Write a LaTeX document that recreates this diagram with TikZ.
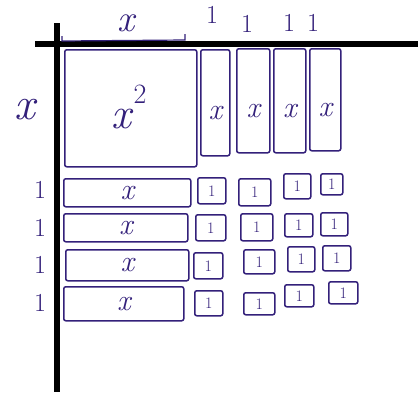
\documentclass[tikz,border=0pt]{standalone}
\usepackage{fontspec}
\usetikzlibrary{calc}
\begin{document}
\begin{tikzpicture}[x=1pt,y=-1pt,
  ink/.style={draw=inkc,line width=1.5pt},
  tile/.style={ink,rounded corners=2pt,inner sep=0pt,anchor=north west},
  lbl/.style={text=inkc,inner sep=0pt},
  vx/.style={lbl,font=\fontsize{30}{30}\selectfont\itshape},
  one/.style={lbl,font=\fontsize{26}{26}\selectfont},
  small/.style={lbl,font=\fontsize{16}{16}\selectfont},
  axis/.style={line width=5.5pt,black}]
\definecolor{inkc}{HTML}{33207A}
\useasboundingbox (0,0) rectangle (418,392);
% axes
\draw[axis] (35,44) -- (418,44);
\draw[axis] (57,23) -- (57,392);
% dimension marks on top
\coordinate (m1) at (62,36);
\coordinate (m2) at (185,34);
\draw[ink,line width=1.2pt] (m1) -- ++(0,5) -- ($(m2)+(0,6)$) -- (m2);
\node[lbl,font=\fontsize{38}{38}\selectfont\itshape] (tx) at (126,23) {x};
\node[one] (t1) at (212,15) {1};
\node[one] (t2) at (247,24) {1};
\node[one] (t3) at (289,23) {1};
\node[one] (t4) at (313,23) {1};
% left labels
\node[lbl,font=\fontsize{46}{46}\selectfont\itshape] (lx) at (25,110) {x};
\node[one] (l1) at (40,190) {1};
\node[one] (l2) at (40,228) {1};
\node[one] (l3) at (40,265) {1};
\node[one] (l4) at (40,303) {1};
% x^2 tile
\node[tile,minimum width=132pt,minimum height=117pt] (sq) at (64,49) {};
\node[lbl,font=\fontsize{44}{44}\selectfont] (sqt) at (129,107) {\textit{x}\raisebox{0.55em}{\fontsize{28}{28}\selectfont 2}};
% vertical x tiles
\node[tile,minimum width=29pt,minimum height=106pt] (v1) at (200,49) {};
\node[tile,minimum width=33pt,minimum height=104pt] (v2) at (236,48) {};
\node[tile,minimum width=32pt,minimum height=104pt] (v3) at (273,48) {};
\node[tile,minimum width=31pt,minimum height=102pt] (v4) at (309,48) {};
\foreach \n in {v1,v2,v3,v4}{\node[vx] at ($(\n.center)+(0,10)$) {x};}
% horizontal x tiles
\node[tile,minimum width=127pt,minimum height=28pt] (h1) at (63,178) {};
\node[tile,minimum width=124pt,minimum height=28pt] (h2) at (63,213) {};
\node[tile,minimum width=123pt,minimum height=31pt] (h3) at (65,249) {};
\node[tile,minimum width=120pt,minimum height=34pt] (h4) at (63,286) {};
\foreach \n in {h1,h2,h3,h4}{\node[vx] at (\n.center) {x};}
% unit tiles
\foreach \nm/\xa/\ya/\w/\h in {
 a1/197/177/28/26, a2/238/178/32/27, a3/283/173/27/25, a4/320/173/22/21,
 b1/195/214/30/26, b2/240/213/32/27, b3/284/213/28/23, b4/320/212/27/23,
 c1/193/252/29/26, c2/243/249/31/24, c3/287/246/27/25, c4/322/245/28/25,
 d1/194/290/28/25, d2/243/292/31/22, d3/284/284/29/22, d4/328/281/29/22}{
  \node[tile,minimum width=\w pt,minimum height=\h pt] (\nm) at (\xa,\ya) {};
  \node[small] at (\nm.center) {1};
}
\end{tikzpicture}
\end{document}
